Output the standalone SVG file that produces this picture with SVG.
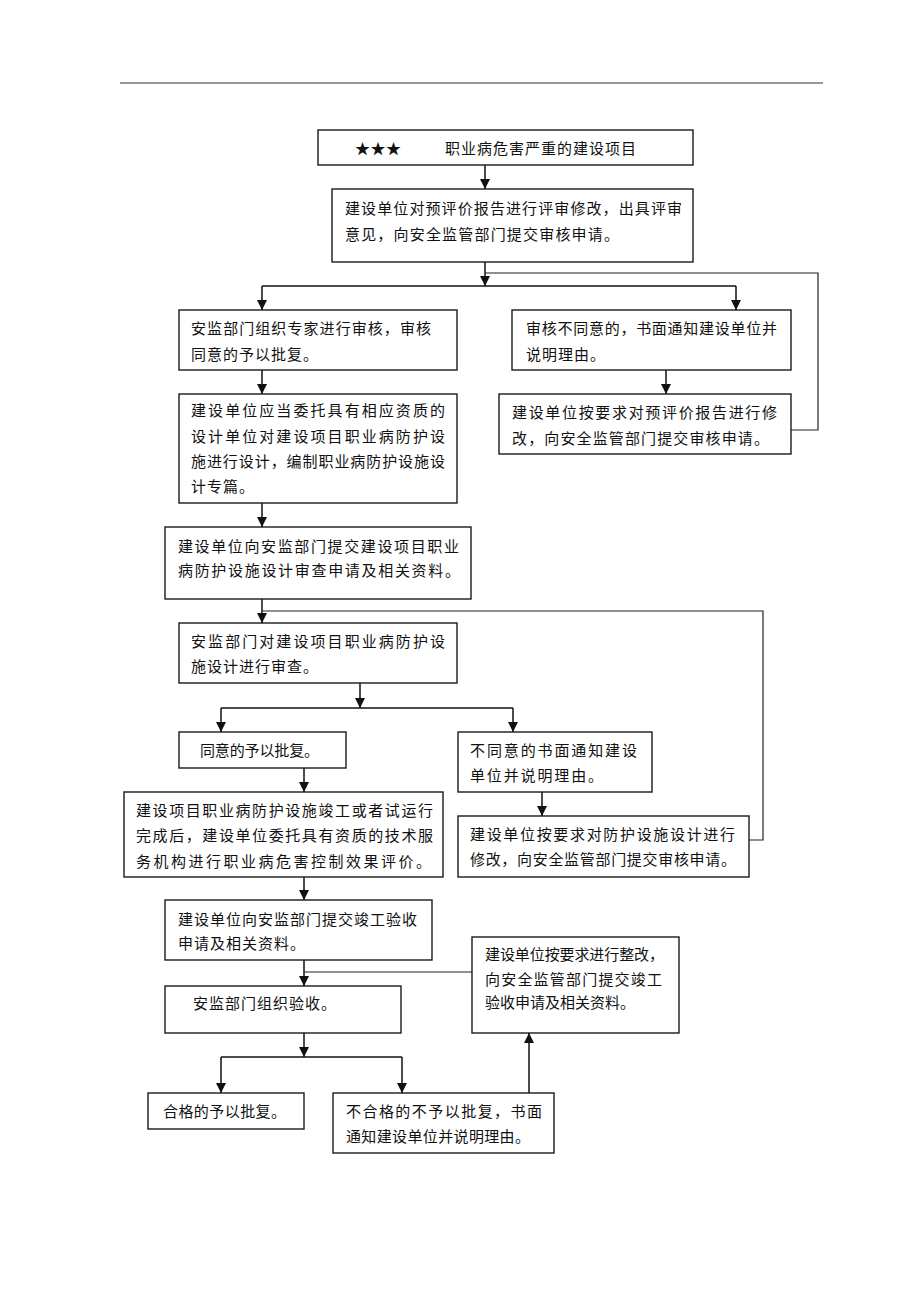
<svg xmlns="http://www.w3.org/2000/svg" width="920" height="1302" viewBox="0 0 920 1302">
<style>
.box{fill:#fff;stroke:#1a1a1a;stroke-width:1.4}
.t{font-family:"Noto Sans CJK SC","Noto Sans",sans-serif;font-size:15px;fill:#111;letter-spacing:1px}
.ln{fill:none;stroke:#111;stroke-width:1.5}
.rl{fill:none;stroke:#222;stroke-width:1.2}
</style>
<defs>
<marker id="a" markerUnits="userSpaceOnUse" markerWidth="10" markerHeight="10" refX="10" refY="5" orient="auto" viewBox="0 0 10 10">
<path d="M0,0 L10,5 L0,10 Z" fill="#111"/>
</marker>
</defs>
<line x1="120" y1="83" x2="823" y2="83" stroke="#333" stroke-width="1"/>

<g id="connectors">
<path class="ln" d="M485 165 V189" marker-end="url(#a)"/>
<path class="ln" d="M485 262 V286" marker-end="url(#a)"/>
<path class="ln" d="M262 286 H736"/>
<path class="ln" d="M262 286 V310" marker-end="url(#a)"/>
<path class="ln" d="M736 286 V310" marker-end="url(#a)"/>
<path class="rl" d="M791 430 H818 V273 H485"/>
<path class="ln" d="M262 370 V394" marker-end="url(#a)"/>
<path class="ln" d="M666 370 V394" marker-end="url(#a)"/>
<path class="ln" d="M262 503 V527" marker-end="url(#a)"/>
<path class="ln" d="M262 599 V623" marker-end="url(#a)"/>
<path class="rl" d="M749 840 H763 V611 H262"/>
<path class="ln" d="M360 683 V708" marker-end="url(#a)"/>
<path class="ln" d="M221 708 H513"/>
<path class="ln" d="M221 708 V732" marker-end="url(#a)"/>
<path class="ln" d="M513 708 V732" marker-end="url(#a)"/>
<path class="ln" d="M304 768 V792" marker-end="url(#a)"/>
<path class="ln" d="M542 792 V816" marker-end="url(#a)"/>
<path class="ln" d="M304 877 V900" marker-end="url(#a)"/>
<path class="ln" d="M304 960 V986" marker-end="url(#a)"/>
<path class="rl" d="M472 972 H304"/>
<path class="ln" d="M304 1033 V1057" marker-end="url(#a)"/>
<path class="ln" d="M221 1057 H402"/>
<path class="ln" d="M221 1057 V1093" marker-end="url(#a)"/>
<path class="ln" d="M402 1057 V1093" marker-end="url(#a)"/>
<path class="ln" d="M529 1093 V1033" marker-end="url(#a)"/>
</g>

<g id="n1">
<rect class="box" x="318" y="130" width="375" height="35"/>
<text class="t" x="355" y="154" textLength="47">★★★</text>
<text class="t" x="445" y="154" textLength="192">职业病危害严重的建设项目</text>
</g>
<g id="n2">
<rect class="box" x="332" y="189" width="361" height="73"/>
<text class="t" x="345" y="214" textLength="338">建设单位对预评价报告进行评审修改，出具评审</text>
<text class="t" x="345" y="240" textLength="275">意见，向安全监管部门提交审核申请。</text>
</g>
<g id="n3">
<rect class="box" x="179" y="310" width="278" height="60"/>
<text class="t" x="191" y="334" textLength="241">安监部门组织专家进行审核，审核</text>
<text class="t" x="191" y="360" textLength="128">同意的予以批复。</text>
</g>
<g id="n4">
<rect class="box" x="512" y="310" width="279" height="60"/>
<text class="t" x="526" y="334" textLength="252">审核不同意的，书面通知建设单位并</text>
<text class="t" x="526" y="360" textLength="80">说明理由。</text>
</g>
<g id="n5">
<rect class="box" x="179" y="394" width="278" height="109"/>
<text class="t" x="191" y="416" textLength="255">建设单位应当委托具有相应资质的</text>
<text class="t" x="191" y="442" textLength="255">设计单位对建设项目职业病防护设</text>
<text class="t" x="191" y="467" textLength="255">施进行设计，编制职业病防护设施设</text>
<text class="t" x="191" y="492" textLength="64">计专篇。</text>
</g>
<g id="n6">
<rect class="box" x="499" y="394" width="292" height="60"/>
<text class="t" x="512" y="418" textLength="266">建设单位按要求对预评价报告进行修</text>
<text class="t" x="512" y="444" textLength="258">改，向安全监管部门提交审核申请。</text>
</g>
<g id="n7">
<rect class="box" x="165" y="527" width="306" height="72"/>
<text class="t" x="178" y="552" textLength="282">建设单位向安监部门提交建设项目职业</text>
<text class="t" x="178" y="576" textLength="283">病防护设施设计审查申请及相关资料。</text>
</g>
<g id="n8">
<rect class="box" x="179" y="623" width="278" height="60"/>
<text class="t" x="191" y="647" textLength="255">安监部门对建设项目职业病防护设</text>
<text class="t" x="191" y="672" textLength="128">施设计进行审查。</text>
</g>
<g id="n9">
<rect class="box" x="179" y="732" width="167" height="36"/>
<text class="t" x="200" y="756" textLength="120">同意的予以批复。</text>
</g>
<g id="n10">
<rect class="box" x="458" y="732" width="194" height="60"/>
<text class="t" x="470" y="756" textLength="168">不同意的书面通知建设</text>
<text class="t" x="470" y="781" textLength="134">单位并说明理由。</text>
</g>
<g id="n11">
<rect class="box" x="124" y="792" width="319" height="85"/>
<text class="t" x="136" y="816" textLength="298">建设项目职业病防护设施竣工或者试运行</text>
<text class="t" x="136" y="841" textLength="298">完成后，建设单位委托具有资质的技术服</text>
<text class="t" x="136" y="867" textLength="296">务机构进行职业病危害控制效果评价。</text>
</g>
<g id="n12">
<rect class="box" x="458" y="816" width="291" height="61"/>
<text class="t" x="470" y="840" textLength="266">建设单位按要求对防护设施设计进行</text>
<text class="t" x="470" y="865" textLength="267">修改，向安全监管部门提交审核申请。</text>
</g>
<g id="n13">
<rect class="box" x="165" y="900" width="267" height="60"/>
<text class="t" x="178" y="925" textLength="240">建设单位向安监部门提交竣工验收</text>
<text class="t" x="178" y="949" textLength="128">申请及相关资料。</text>
</g>
<g id="n14">
<rect class="box" x="165" y="986" width="236" height="47"/>
<text class="t" x="193" y="1009" textLength="144">安监部门组织验收。</text>
</g>
<g id="n15">
<rect class="box" x="472" y="937" width="207" height="96"/>
<text class="t" x="485" y="960" textLength="180">建设单位按要求进行整改，</text>
<text class="t" x="485" y="985" textLength="178">向安全监管部门提交竣工</text>
<text class="t" x="485" y="1008" textLength="151">验收申请及相关资料。</text>
</g>
<g id="n16">
<rect class="box" x="148" y="1093" width="156" height="36"/>
<text class="t" x="163" y="1117" textLength="124">合格的予以批复。</text>
</g>
<g id="n17">
<rect class="box" x="333" y="1093" width="221" height="60"/>
<text class="t" x="346" y="1117" textLength="197">不合格的不予以批复，书面</text>
<text class="t" x="346" y="1142" textLength="185">通知建设单位并说明理由。</text>
</g>
</svg>
